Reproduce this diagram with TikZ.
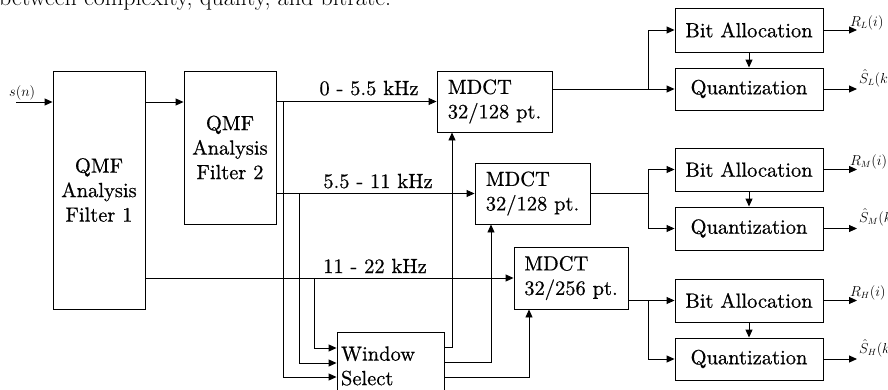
\documentclass[tikz,border=0pt]{standalone}
\usepackage{fontspec}
\newfontfamily\diagfont{lmroman10-regular.otf}[FakeBold=0.6]
\usetikzlibrary{arrows.meta,calc}
\begin{document}
\begin{tikzpicture}[x=1pt,y=-1pt,
  box/.style={draw,line width=0.9pt,inner sep=0pt,align=center,
    font=\diagfont\fontsize{20.5}{24.5}\selectfont},
  band/.style={inner sep=0pt,anchor=base,font=\diagfont\fontsize{20.5}{24.5}\selectfont},
  lab/.style={inner sep=0pt,anchor=base west,font=\fontsize{13.5}{15}\selectfont},
  arr/.style={line width=0.9pt,-{Triangle[length=8pt,width=7pt]}},
  ln/.style={line width=0.9pt}]
\useasboundingbox (0,0) rectangle (888,389);
% clipped line of surrounding text
\node[inner sep=0pt,anchor=base west,font=\fontsize{24}{28}\selectfont] (top) at (-1,5.5) {between complexity, quality, and bitrate.};
% boxes
\node[box,minimum width=92pt,minimum height=238pt] (f1) at (99,190) {QMF\\Analysis\\Filter 1};
\node[box,minimum width=92pt,minimum height=153pt] (f2) at (230,147.5) {QMF\\Analysis\\Filter 2};
\node[box,align=left,minimum width=115pt,minimum height=61pt] (m1) at (494.5,101.5) {MDCT\\32/128 pt.};
\node[box,align=left,minimum width=115pt,minimum height=61pt] (m2) at (532.5,193.5) {MDCT\\32/128 pt.};
\node[box,align=left,minimum width=114pt,minimum height=62pt] (m3) at (571,278) {MDCT\\32/256 pt.};
\node[box,align=left,text width=99pt,inner xsep=4pt,minimum height=68pt] (ws) at (390.5,366) {Window\\Select};
\node[box,minimum width=148pt,minimum height=44pt] (bl) at (749,30) {Bit Allocation};
\node[box,minimum width=148pt,minimum height=42pt] (ql) at (749,89) {Quantization};
\node[box,minimum width=148pt,minimum height=43pt] (bm) at (749,169.5) {Bit Allocation};
\node[box,minimum width=148pt,minimum height=43pt] (qm) at (749,228.5) {Quantization};
\node[box,minimum width=148pt,minimum height=43pt] (bh) at (749,300.5) {Bit Allocation};
\node[box,minimum width=148pt,minimum height=42pt] (qh) at (749,359) {Quantization};
% band labels
\node[band] (l1) at (369,95) {0 - 5.5 kHz};
\node[band] (l2) at (378,188) {5.5 - 11 kHz};
\node[band] (l3) at (375,273) {11 - 22 kHz};
% input
\coordinate (sin) at (16,102);
\node[lab] (sn) at (9,96) {$s(n)$};
\draw[arr] (sin) -- (f1.west |- sin);
\draw[arr] (f1.east |- sin) -- (f2.west |- sin);
% bands
\draw[arr] (f2.east |- m1.west) -- (m1.west);
\draw[arr] (f2.east |- m2.west) -- (m2.west);
\draw[arr] (f1.east |- m3.west) -- (m3.west);
% window select inputs
\coordinate (a1) at (283,377);
\coordinate (a2) at (299,363);
\coordinate (a3) at (314,348);
\draw[arr] (a1 |- m1.west) -- (a1) -- (ws.west |- a1);
\draw[arr] (a2 |- m2.west) -- (a2) -- (ws.west |- a2);
\draw[arr] (a3 |- m3.west) -- (a3) -- (ws.west |- a3);
% window select outputs
\coordinate (b1) at (452,347);
\coordinate (b2) at (491,362);
\coordinate (b3) at (529,377);
\draw[arr] (ws.east |- b1) -- (b1) -- (b1 |- m1.south);
\draw[arr] (ws.east |- b2) -- (b2) -- (b2 |- m2.south);
\draw[arr] (ws.east |- b3) -- (b3) -- (b3 |- m3.south);
% MDCT outputs
\coordinate (j) at (648,0);
\draw[arr] (m1.east |- ql.west) -- (ql.west);
\draw[arr] (j |- ql.west) -- (j |- bl.west) -- (bl.west);
\draw[ln] (m2.east) -- (j |- m2.east);
\draw[arr] (j |- m2.east) -- (j |- bm.west) -- (bm.west);
\draw[arr] (j |- m2.east) -- (j |- qm.west) -- (qm.west);
\draw[arr] (m3.east |- bh.west) -- (bh.west);
\draw[arr] (j |- bh.west) -- (j |- qh.west) -- (qh.west);
% bit allocation -> quantization
\draw[arr] (bl.south) -- (ql.north);
\draw[arr] (bm.south) -- (qm.north);
\draw[arr] (bh.south) -- (qh.north);
% outputs
\coordinate (o) at (857,0);
\draw[arr] (bl.east) -- (o |- bl.east);
\draw[arr] (ql.east) -- (o |- ql.east);
\draw[arr] (bm.east) -- (o |- bm.east);
\draw[arr] (qm.east) -- (o |- qm.east);
\draw[arr] (bh.east) -- (o |- bh.east);
\draw[arr] (qh.east) -- (o |- qh.east);
\node[lab] (rl) at (850,26) {$R_L(i)$};
\node[lab] (sl) at (859,83) {$\hat S_L(k)$};
\node[lab] (rm) at (850,165) {$R_M(i)$};
\node[lab] (sm) at (859,222) {$\hat S_M(k)$};
\node[lab] (rh) at (850,296) {$R_H(i)$};
\node[lab] (sh) at (859,353) {$\hat S_H(k)$};
\end{tikzpicture}
\end{document}
